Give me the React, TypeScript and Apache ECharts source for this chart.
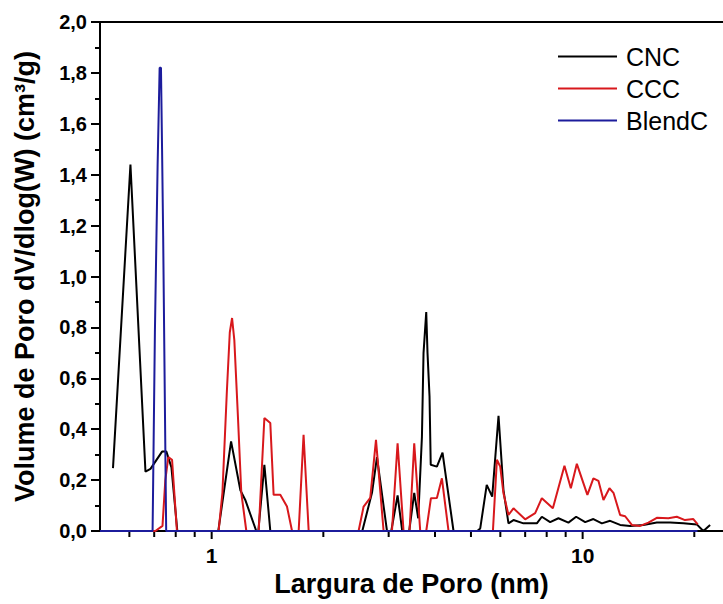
import React, { useEffect, useRef } from "react";
import * as echarts from "echarts";

// Pore width (nm) and dV/dlog(W) (cm³/g)
const cncWidth = [0.542, 0.604, 0.663, 0.684, 0.735, 0.755, 0.779, 0.808, 1.042, 1.128, 1.195, 1.232, 1.319, 1.336, 1.387, 1.439, 2.547, 2.705, 2.79, 2.969, 3.049, 3.171, 3.264, 3.408, 3.516, 3.604, 3.688, 3.725, 3.788, 3.818, 3.866, 3.895, 4.047, 4.191, 4.487, 5.2, 5.296, 5.514, 5.705, 5.933, 6.118, 6.311, 6.51, 6.926, 7.526, 7.763, 8.174, 8.606, 9.156, 9.605, 10.16, 10.69, 11.27, 11.86, 12.62, 13.43, 14.58, 15.85, 17.21, 18.69, 20.31, 21.16, 22.06];
const cncValue = [0.247, 1.44, 0.233, 0.244, 0.312, 0.312, 0.25, 0, 0, 0.352, 0.16, 0.122, 0, 0, 0.26, 0, 0, 0.15, 0.29, 0, 0, 0.14, 0, 0, 0.15, 0.05, 0.37, 0.7, 0.86, 0.7, 0.53, 0.26, 0.253, 0.308, 0, 0, 0.01, 0.181, 0.135, 0.453, 0.161, 0.03, 0.043, 0.03, 0.03, 0.056, 0.035, 0.05, 0.033, 0.056, 0.035, 0.047, 0.03, 0.04, 0.024, 0.02, 0.024, 0.033, 0.033, 0.03, 0.026, 0, 0.024];

const cccWidth = [0.5, 0.705, 0.737, 0.75, 0.764, 0.782, 0.806, 1.044, 1.069, 1.099, 1.119, 1.135, 1.151, 1.177, 1.202, 1.24, 1.339, 1.387, 1.439, 1.469, 1.531, 1.596, 1.647, 1.716, 1.769, 1.826, 2.489, 2.568, 2.676, 2.773, 2.907, 3.062, 3.171, 3.29, 3.415, 3.516, 3.649, 3.788, 3.9, 4.047, 4.175, 4.35, 5.73, 5.874, 5.996, 6.118, 6.311, 6.51, 7.0, 7.448, 7.763, 8.313, 8.933, 9.294, 9.647, 10.3, 10.69, 11.03, 11.38, 11.81, 12.11, 12.62, 13.02, 13.57, 14.29, 15.04, 15.85, 17.03, 17.94, 18.88, 19.88, 20.43];
const cccValue = [0, 0, 0.02, 0.2, 0.29, 0.28, 0, 0, 0.15, 0.55, 0.78, 0.837, 0.75, 0.45, 0.15, 0, 0, 0.444, 0.424, 0.142, 0.142, 0.096, 0, 0, 0.378, 0, 0, 0.096, 0.13, 0.358, 0, 0, 0.345, 0, 0, 0.345, 0, 0, 0.129, 0.13, 0.207, 0, 0, 0.28, 0.253, 0.148, 0.063, 0.089, 0.046, 0.07, 0.129, 0.089, 0.256, 0.168, 0.264, 0.142, 0.207, 0.197, 0.122, 0.168, 0.15, 0.063, 0.058, 0.024, 0.02, 0.033, 0.052, 0.05, 0.056, 0.043, 0.047, 0.026];

const blendWidth = [0.5, 0.693, 0.703, 0.715, 0.724, 0.73, 0.735, 0.74, 0.754, 20.4];
const blendValue = [0, 0, 0.78, 1.44, 1.82, 1.82, 1.5, 1.16, 0, 0];

const seriesNames = ["CNC", "CCC", "BlendC"];
const seriesColors = ["#000000", "#d8181c", "#1c1c9c"];

const xMinNm = 0.5;
const xMaxNm = 23.9;
const majorTicksNm = [1, 10];
const minorTicksNm = [0.6, 0.7, 0.8, 0.9, 2, 3, 4, 5, 6, 7, 8, 9, 20];

const FONT = "'Liberation Sans', Arial, sans-serif";

function toPairs(w: number[], v: number[]) {
  return w.map((x, i) => [Math.log10(x), v[i]]);
}

// x-axis ticks at log positions, placed through the axis scale
function tickSeries(name: string, ticksNm: number[], len: number) {
  return {
    name,
    type: "custom",
    xAxisIndex: 0,
    yAxisIndex: 0,
    data: ticksNm.map((t) => [Math.log10(t), 0]),
    clip: false,
    silent: true,
    z: 1,
    renderItem: (params: any, api: any) => {
      const p = api.coord([api.value(0), api.value(1)]);
      return {
        type: "line",
        shape: { x1: p[0], y1: p[1], x2: p[0], y2: p[1] + len },
        style: { stroke: "#000", lineWidth: 2 },
      };
    },
  };
}

export default function App() {
  const ref = useRef<HTMLDivElement>(null);

  useEffect(() => {
    if (!ref.current) return;
    const chart = echarts.init(ref.current, undefined, { renderer: "svg" });
    const xmin = Math.log10(xMinNm);
    const xmax = Math.log10(xMaxNm);
    chart.setOption({
      animation: false,
      backgroundColor: "#ffffff",
      textStyle: { fontFamily: FONT },
      grid: { left: 100, right: 0, top: 22, bottom: 73 },
      legend: {
        orient: "vertical",
        left: 558,
        top: 41,
        padding: 0,
        itemGap: 1,
        itemWidth: 59,
        itemHeight: 2,
        icon: "rect",
        data: seriesNames,
        textStyle: {
          fontFamily: FONT,
          fontSize: 25,
          color: "#000",
          lineHeight: 31,
          padding: [0, 0, 0, 4],
        },
      },
      xAxis: [
        {
          type: "value",
          min: xmin,
          max: xmax,
          position: "bottom",
          splitLine: { show: false },
          name: "Largura de Poro (nm)",
          nameLocation: "middle",
          nameGap: 37,
          nameTextStyle: { fontFamily: FONT, fontSize: 27, fontWeight: "bold", color: "#000" },
          axisLine: { show: true, onZero: false, lineStyle: { color: "#000", width: 2 } },
          axisTick: { show: false },
          axisLabel: {
            show: true,
            margin: 14,
            fontFamily: FONT,
            fontSize: 21,
            fontWeight: "bold",
            color: "#000",
            customValues: majorTicksNm.map((v) => Math.log10(v)),
            formatter: (v: number) => String(Math.round(Math.pow(10, v))),
          },
        },
        {
          type: "value",
          min: xmin,
          max: xmax,
          position: "top",
          splitLine: { show: false },
          axisLine: { show: true, onZero: false, lineStyle: { color: "#000", width: 2 } },
          axisTick: { show: false },
          axisLabel: { show: false },
        },
      ],
      yAxis: {
        type: "value",
        min: 0,
        max: 2,
        interval: 0.2,
        name: "Volume de Poro dV/dlog(W) (cm³/g)",
        nameLocation: "middle",
        nameGap: 62,
        nameTextStyle: { fontFamily: FONT, fontSize: 27, fontWeight: "bold", color: "#000" },
        splitLine: { show: false },
        axisLine: { show: true, onZero: false, lineStyle: { color: "#000", width: 2 } },
        axisTick: { show: true, length: 9, lineStyle: { color: "#000", width: 2 } },
        minorTick: { show: true, splitNumber: 2, length: 5, lineStyle: { color: "#000", width: 2 } },
        axisLabel: {
          margin: 13,
          fontFamily: FONT,
          fontSize: 20,
          fontWeight: "bold",
          color: "#000",
          formatter: (v: number) => v.toFixed(1).replace(".", ","),
        },
      },
      series: [
        tickSeries("majorTicks", majorTicksNm, 8),
        tickSeries("minorTicks", minorTicksNm, 6),
        ...[
          { w: cncWidth, v: cncValue },
          { w: cccWidth, v: cccValue },
          { w: blendWidth, v: blendValue },
        ].map((s, i) => ({
          name: seriesNames[i],
          type: "line",
          xAxisIndex: 0,
          yAxisIndex: 0,
          data: toPairs(s.w, s.v),
          showSymbol: false,
          symbol: "none",
          color: seriesColors[i],
          lineStyle: { color: seriesColors[i], width: 2 },
          itemStyle: { color: seriesColors[i] },
          z: 2 + i,
        })),
      ],
    });
    return () => chart.dispose();
  }, []);

  return (
    <div
      ref={ref}
      style={{ position: "absolute", left: 0, top: 0, width: 723, height: 604 }}
    />
  );
}
